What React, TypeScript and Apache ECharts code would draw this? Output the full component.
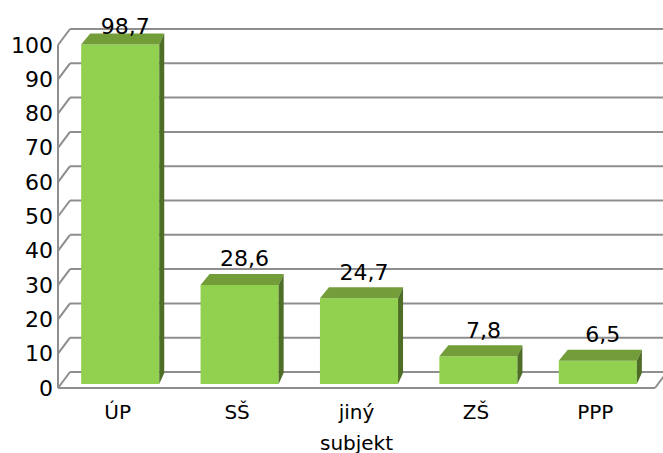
import React, { useEffect, useRef } from "react";
import * as echarts from "echarts";

const categories = ["ÚP", "SŠ", "jiný\nsubjekt", "ZŠ", "PPP"];
const values = [98.7, 28.6, 24.7, 7.8, 6.5];
const yTicks = [0, 10, 20, 30, 40, 50, 60, 70, 80, 90, 100];

const FONT = "DejaVu Sans";
const DEPTH_X = 12;
const DEPTH_Y = -16;
const LINE = "#8E8E8E";
const FRONT = "#92D050";
const TOP = "#729D39";
const SIDE = "#4E6E27";

export default function App() {
  const ref = useRef<HTMLDivElement>(null);
  useEffect(() => {
    document.body.style.margin = "0";
    const chart = echarts.init(ref.current!, null, { renderer: "svg" });
    chart.setOption({
      animation: false,
      backgroundColor: "#ffffff",
      grid: { left: 58, right: 8, top: 45, bottom: 65, outerBoundsMode: "none", containLabel: false },
      xAxis: {
        type: "category",
        data: categories,
        axisLine: { show: false },
        axisTick: { show: false },
        axisLabel: {
          color: "#000",
          fontFamily: FONT,
          fontSize: 20,
          lineHeight: 31,
          margin: 8,
        },
      },
      yAxis: {
        type: "value",
        min: 0,
        max: 100,
        interval: 10,
        axisLine: { show: false },
        axisTick: { show: false },
        splitLine: { show: false },
        axisLabel: { color: "#000", fontFamily: FONT, fontSize: 22, margin: 5 },
      },
      series: [
        {
          type: "custom",
          silent: true,
          z: 1,
          encode: { x: 0, y: 1 },
          data: yTicks.map((v) => [0, v]),
          renderItem: (params: any, api: any) => {
            const v = api.value(1);
            const y = api.coord([0, v])[1];
            const cs = params.coordSys;
            const x0 = cs.x;
            const style = { stroke: LINE, lineWidth: 2, fill: "none" };
            const children: any[] = [
              {
                type: "line",
                shape: { x1: x0, y1: y, x2: x0 + DEPTH_X, y2: y + DEPTH_Y },
                style,
              },
              {
                type: "line",
                shape: {
                  x1: x0 + DEPTH_X,
                  y1: y + DEPTH_Y,
                  x2: cs.x + cs.width + 30,
                  y2: y + DEPTH_Y,
                },
                style,
              },
            ];
            if (v === 0) {
              children.push({
                type: "line",
                shape: { x1: x0, y1: y, x2: x0 + cs.width, y2: y },
                style,
              });
              children.push({
                type: "line",
                shape: {
                  x1: x0 + cs.width,
                  y1: y,
                  x2: x0 + cs.width + DEPTH_X,
                  y2: y + DEPTH_Y,
                },
                style,
              });
            }
            if (v === 100) {
              children.push({
                type: "line",
                shape: { x1: x0, y1: y, x2: x0, y2: cs.y + cs.height },
                style,
              });
            }
            return { type: "group", children };
          },
        },
        {
          type: "custom",
          z: 5,
          encode: { x: 0, y: 1 },
          data: values.map((v, i) => [i, v]),
          renderItem: (params: any, api: any) => {
            const i = api.value(0);
            const v = api.value(1);
            const [cx, ty] = api.coord([i, v]);
            const by = api.coord([i, 0])[1];
            const band = api.size([1, 0])[0];
            const half = band * 0.327;
            const L = cx - half + 2.5;
            const R = cx + half + 2.5;
            const T = ty - 5;
            const B = by - 4;
            const dyTop = -11;
            const label = v.toFixed(1).replace(".", ",");
            const labelY = Math.max(T + dyTop - 15, 26);
            return {
              type: "group",
              children: [
                {
                  type: "rect",
                  shape: { x: L, y: T, width: R - L, height: B - T },
                  style: { fill: FRONT },
                },
                {
                  type: "polygon",
                  shape: {
                    points: [
                      [L, T],
                      [R, T],
                      [R + 5, T + dyTop],
                      [L + 9, T + dyTop],
                    ],
                  },
                  style: { fill: TOP },
                },
                {
                  type: "polygon",
                  shape: {
                    points: [
                      [R, T],
                      [R + 5, T + dyTop],
                      [R + 5, B + dyTop],
                      [R, B],
                    ],
                  },
                  style: { fill: SIDE },
                },
                {
                  type: "text",
                  style: {
                    x: (L + R) / 2 + 5,
                    y: labelY,
                    text: label,
                    fill: "#000",
                    font: `22px "${FONT}"`,
                    align: "center",
                    verticalAlign: "middle",
                  },
                },
              ],
            };
          },
        },
      ],
    });
    return () => chart.dispose();
  }, []);
  return <div ref={ref} style={{ width: 663, height: 453 }} />;
}
